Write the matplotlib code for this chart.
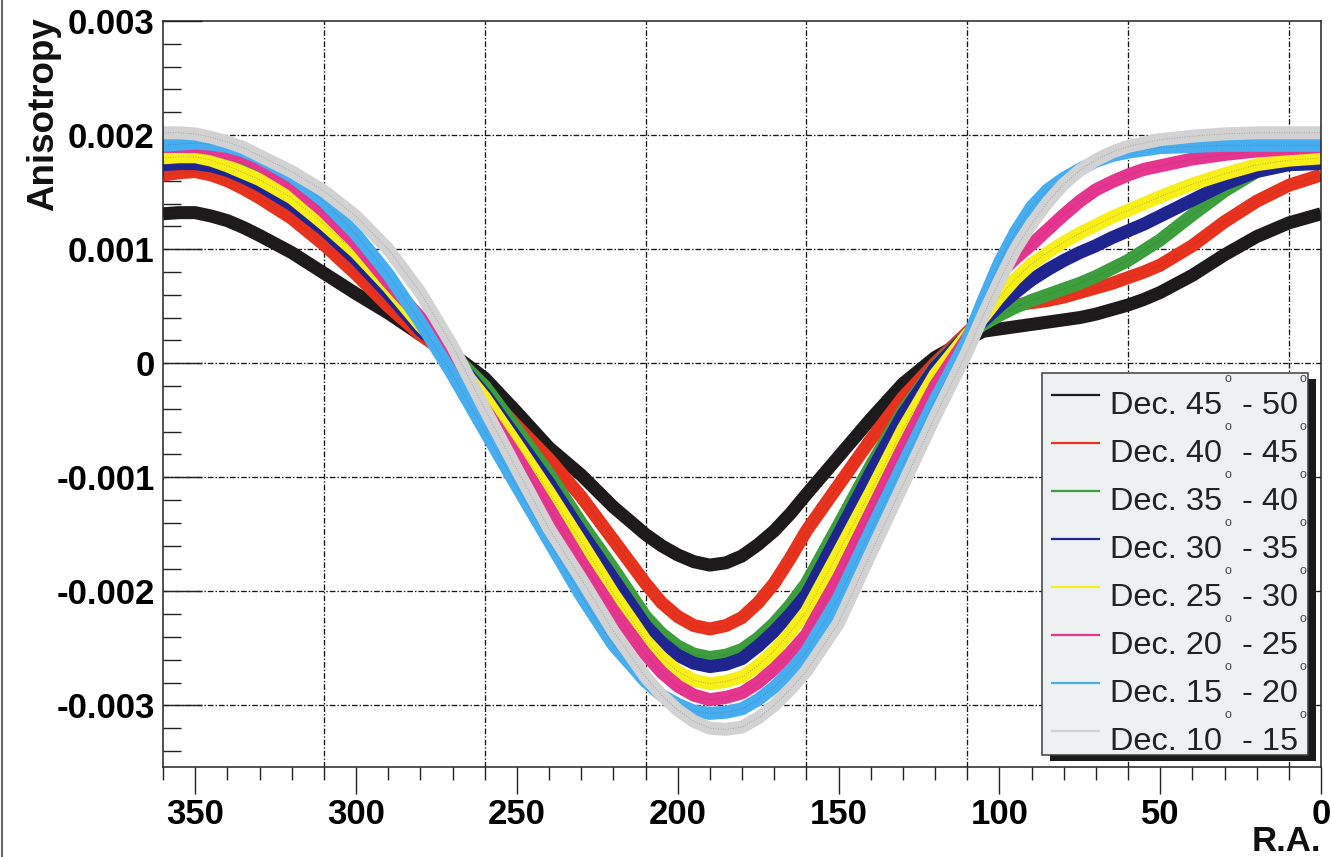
import matplotlib
matplotlib.use("Agg")
import matplotlib.pyplot as plt
import numpy as np
from matplotlib.patches import Rectangle
from matplotlib.lines import Line2D
from matplotlib.ticker import FixedLocator, MultipleLocator

plt.rcParams['font.family'] = ['Liberation Sans', 'DejaVu Sans']
plt.rcParams['axes.unicode_minus'] = False

# Right ascension (degrees) at which the anisotropy is sampled
ra = [360, 355, 350, 345, 340, 335, 330,
      320, 310, 300, 290, 280, 270, 260, 250, 240, 230, 220, 210,
      205, 200, 195, 190, 185, 180, 175, 170, 165, 160,
      150, 140, 130, 120, 110, 105,
      100, 95, 90, 85, 80, 75, 70, 65, 60, 55, 50,
      40, 30, 20, 10, 0]

# Relative intensity per declination band, in units of 1e-3
dec_45_50 = [1.31, 1.32, 1.32, 1.29, 1.25, 1.19, 1.12,
             0.97, 0.79, 0.61, 0.44, 0.25, 0.08, -0.13, -0.43, -0.74, -0.98, -1.26, -1.50,
             -1.60, -1.68, -1.74, -1.77, -1.75, -1.69, -1.59, -1.47, -1.32, -1.15,
             -0.82, -0.49, -0.18, 0.05, 0.21, 0.28,
             0.30, 0.32, 0.34, 0.36, 0.38, 0.40, 0.43, 0.47, 0.51, 0.56, 0.62,
             0.77, 0.95, 1.11, 1.23, 1.31]
dec_40_45 = [1.65, 1.67, 1.68, 1.65, 1.60, 1.53, 1.45,
             1.27, 1.04, 0.78, 0.50, 0.25, 0.05, -0.25, -0.55, -0.84, -1.17, -1.55, -1.93,
             -2.10, -2.22, -2.30, -2.33, -2.30, -2.23, -2.10, -1.93, -1.71, -1.47,
             -1.07, -0.67, -0.30, 0.00, 0.27, 0.40,
             0.49, 0.51, 0.53, 0.55, 0.58, 0.62, 0.66, 0.70, 0.75, 0.80, 0.86,
             1.03, 1.24, 1.42, 1.56, 1.65]
dec_35_40 = [1.86, 1.87, 1.87, 1.84, 1.79, 1.72, 1.65,
             1.46, 1.22, 0.94, 0.63, 0.31, 0.08, -0.20, -0.58, -0.97, -1.40, -1.80, -2.22,
             -2.37, -2.48, -2.55, -2.58, -2.56, -2.51, -2.41, -2.28, -2.12, -1.93,
             -1.42, -0.90, -0.42, -0.03, 0.25, 0.34,
             0.42, 0.49, 0.55, 0.60, 0.65, 0.70, 0.76, 0.83, 0.90, 0.99, 1.08,
             1.30, 1.51, 1.68, 1.80, 1.86]
dec_30_35 = [1.74, 1.75, 1.75, 1.73, 1.69, 1.63, 1.56,
             1.39, 1.17, 0.91, 0.61, 0.29, 0.06, -0.27, -0.66, -1.05, -1.48, -1.89, -2.30,
             -2.45, -2.56, -2.63, -2.66, -2.64, -2.59, -2.48, -2.35, -2.20, -2.03,
             -1.50, -0.96, -0.45, -0.04, 0.25, 0.37,
             0.50, 0.62, 0.73, 0.82, 0.90, 0.97, 1.03, 1.10, 1.16, 1.22, 1.29,
             1.43, 1.57, 1.68, 1.74, 1.75]
dec_25_30 = [1.80, 1.81, 1.81, 1.78, 1.73, 1.67, 1.61,
             1.45, 1.22, 0.97, 0.67, 0.33, 0.05, -0.30, -0.71, -1.13, -1.57, -2.02, -2.43,
             -2.58, -2.70, -2.78, -2.81, -2.79, -2.75, -2.65, -2.52, -2.36, -2.18,
             -1.66, -1.13, -0.58, -0.10, 0.25, 0.40,
             0.58, 0.74, 0.87, 0.97, 1.06, 1.14, 1.21, 1.28, 1.34, 1.40, 1.46,
             1.57, 1.66, 1.74, 1.78, 1.80]
dec_20_25 = [1.90, 1.90, 1.90, 1.88, 1.84, 1.80, 1.74,
             1.57, 1.33, 1.05, 0.71, 0.40, 0.02, -0.40, -0.82, -1.27, -1.74, -2.17, -2.55,
             -2.71, -2.83, -2.91, -2.95, -2.93, -2.89, -2.80, -2.68, -2.54, -2.38,
             -1.88, -1.31, -0.74, -0.20, 0.22, 0.45,
             0.78, 0.92, 1.04, 1.17, 1.30, 1.42, 1.52, 1.59, 1.65, 1.70, 1.73,
             1.79, 1.83, 1.86, 1.88, 1.90]
dec_15_20 = [1.91, 1.92, 1.93, 1.92, 1.90, 1.86, 1.80,
             1.64, 1.42, 1.13, 0.78, 0.36, -0.10, -0.59, -1.08, -1.56, -2.04, -2.47, -2.79,
             -2.91, -2.99, -3.05, -3.07, -3.06, -3.03, -2.95, -2.84, -2.70, -2.53,
             -2.06, -1.47, -0.89, -0.32, 0.20, 0.55,
             0.88, 1.15, 1.37, 1.52, 1.62, 1.70, 1.77, 1.82, 1.85, 1.87, 1.89,
             1.90, 1.91, 1.91, 1.91, 1.91]
dec_10_15 = [2.02, 2.02, 2.01, 1.98, 1.94, 1.89, 1.82,
             1.68, 1.51, 1.29, 1.00, 0.62, 0.15, -0.40, -0.93, -1.45, -1.89, -2.35, -2.75,
             -2.91, -3.04, -3.14, -3.20, -3.21, -3.19, -3.11, -3.00, -2.86, -2.70,
             -2.28, -1.67, -1.07, -0.47, 0.10, 0.42,
             0.72, 1.00, 1.22, 1.41, 1.57, 1.69, 1.78, 1.85, 1.90, 1.93, 1.96,
             1.99, 2.01, 2.02, 2.02, 2.02]

band_low = [45, 40, 35, 30, 25, 20, 15, 10]
band_high = [50, 45, 40, 35, 30, 25, 20, 15]
series = [dec_45_50, dec_40_45, dec_35_40, dec_30_35,
          dec_25_30, dec_20_25, dec_15_20, dec_10_15]
colors = ['#1c1a1a', '#e8321e', '#3c9e3c', '#1f2590',
          '#f8ee1a', '#e6358f', '#46aef0', '#d2d2d2']

x_major = [0, 50, 100, 150, 200, 250, 300, 350]
y_major = [-0.003, -0.002, -0.001, 0.0, 0.001, 0.002, 0.003]
y_major_labels = ['-0.003', '-0.002', '-0.001', '0', '0.001', '0.002', '0.003']
ra_grid = [310, 260, 210, 160, 110, 60, 10]

W, H = 1331, 857
PX = 72.0 / 100.0  # points per pixel at 100 dpi
fig = plt.figure(figsize=(W / 100, H / 100), dpi=100)
fig.patch.set_facecolor('white')
ax_l, ax_r, ax_t, ax_b = 163, 1321, 21, 767
ax = fig.add_axes([ax_l / W, 1 - ax_b / H, (ax_r - ax_l) / W, (ax_b - ax_t) / H])

ax.set_xlim(360, 0)
ax.set_ylim(-0.00354, 0.003)

# dotted grid
grid_ls = (0, (4.3, 1.5, 1.1, 1.5))
for g in ra_grid:
    ax.axvline(g, color='#161616', lw=0.95, ls=grid_ls, zorder=1)
for g in y_major[:-1]:
    ax.axhline(g, color='#161616', lw=0.95, ls=grid_ls, zorder=1)

# thick bands with a fine dotted centre line
ra_arr = np.array(ra, dtype=float)
for vals, col in zip(series, colors):
    y = np.array(vals) * 1e-3
    ax.plot(ra_arr, y, color=col, lw=13 * PX, solid_joinstyle='round',
            solid_capstyle='butt', zorder=2)
    ax.plot(ra_arr, y, color='#3a3a3a', lw=0.6, ls=(0, (1, 2)), alpha=0.4, zorder=2)

# axes decoration
for s in ax.spines.values():
    s.set_color('#222222')
    s.set_linewidth(1.1)
    s.set_zorder(6)

ax.xaxis.set_major_locator(FixedLocator(x_major))
ax.xaxis.set_minor_locator(MultipleLocator(10))
ax.set_xticklabels([str(v) for v in x_major], fontsize=25, fontweight='bold')
ax.yaxis.set_major_locator(FixedLocator(y_major))
ax.yaxis.set_minor_locator(MultipleLocator(0.0002))
ax.set_yticklabels(y_major_labels, fontsize=25, fontweight='bold')

ax.tick_params(axis='x', which='major', direction='out', length=27 * PX,
               width=1.0, color='#222222', pad=3)
ax.tick_params(axis='x', which='minor', direction='out', length=13 * PX,
               width=1.0, color='#222222')
ax.tick_params(axis='y', which='major', direction='in', length=39 * PX,
               width=1.0, color='#222222', pad=6)
ax.tick_params(axis='y', which='minor', direction='in', length=18 * PX,
               width=1.0, color='#222222')
ax.tick_params(top=False, right=False, which='both')

fig.text(44 / W, 1 - 17 / H, 'Anisotropy', rotation=90, ha='center', va='top',
         fontsize=26.5, fontweight='bold', color='#111111')
fig.text(ax_r / W, 1 - 851 / H, 'R.A.', ha='right', va='baseline',
         fontsize=25, fontweight='bold', color='#111111')

# figure border on the left
fig.add_artist(Line2D([1.5 / W, 1.5 / W], [0, 1], color='#666666', lw=1.5))


def axfrac(px, py):
    return ((px - ax_l) / (ax_r - ax_l), (ax_b - py) / (ax_b - ax_t))


# legend box with drop shadow
bx0, by0, bx1, by1 = 1042, 373, 1308, 755
sw = (bx1 - bx0) / (ax_r - ax_l)
sh = (by1 - by0) / (ax_b - ax_t)
ax.add_patch(Rectangle(axfrac(bx0 + 8, by1 + 6), sw, sh, transform=ax.transAxes,
                       facecolor='#1a1a1a', edgecolor='none', zorder=7, clip_on=False))
ax.add_patch(Rectangle(axfrac(bx0, by1), sw, sh, transform=ax.transAxes,
                       facecolor='#eef1f2', edgecolor='#3c3c3c', lw=1.1,
                       zorder=8, clip_on=False))

txt_kw = dict(transform=ax.transAxes, fontsize=23.4, va='baseline', ha='left',
              color='#222222', zorder=9)
deg_kw = dict(transform=ax.transAxes, fontsize=9, va='center', ha='center',
              color='#444444', zorder=9)
for i, (lo, hi, col) in enumerate(zip(band_low, band_high, colors)):
    ly = 395 + 48 * i
    (x0, yy), (x1, _) = axfrac(1052, ly), axfrac(1099, ly)
    ax.add_line(Line2D([x0, x1], [yy, yy], color=col, lw=1.6,
                       transform=ax.transAxes, zorder=9, clip_on=False))
    ax.text(*axfrac(1110, ly + 19), f'Dec. {lo}', **txt_kw)
    ax.text(*axfrac(1241.5, ly + 19), f'- {hi}', **txt_kw)
    ax.text(*axfrac(1228, ly - 16), 'o', **deg_kw)
    ax.text(*axfrac(1303, ly - 16), 'o', **deg_kw)

fig.savefig('out.png', dpi=100)
